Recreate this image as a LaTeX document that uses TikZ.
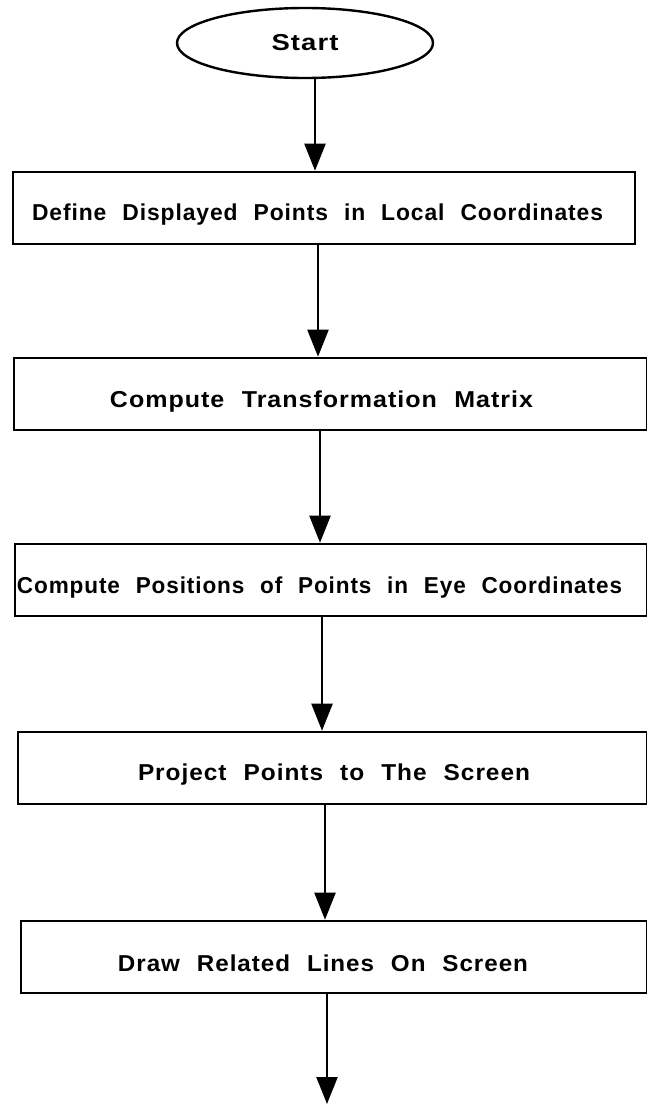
\documentclass[tikz,border=0pt]{standalone}
\usepackage{fontspec}
\usepackage{graphicx}
\setmainfont{Liberation Sans}
\newfontfamily\flowfont[WordSpace=2.2,LetterSpace=4]{Liberation Sans}
\usetikzlibrary{shapes.geometric,arrows.meta}
\newcommand{\fitto}[2]{\resizebox{#1}{\height}{#2}}
\begin{document}
\begin{tikzpicture}[x=1pt,y=-1pt,
  flowbox/.style={draw, rectangle, line width=2.6pt, inner sep=0pt},
  flowtext/.style={inner sep=0pt, font=\flowfont\bfseries\fontsize{23}{26}\selectfont},
  arr/.style={line width=2.3pt, -{Triangle[width=21pt,length=27pt]}}]
\useasboundingbox (0,0) rectangle (646,1105);
% start
\node[draw, ellipse, line width=2.4pt, minimum width=256pt, minimum height=70pt, flowtext] (start) at (305,43) {\fitto{67pt}{Start}};
% boxes
\node[flowbox, minimum width=622pt, minimum height=72pt] (b1) at (324,208) {};
\node[flowbox, minimum width=633pt, minimum height=72pt] (b2) at (330.5,394) {};
\node[flowbox, minimum width=632pt, minimum height=72pt] (b3) at (331,580) {};
\node[flowbox, minimum width=629pt, minimum height=72pt] (b4) at (332.5,768) {};
\node[flowbox, minimum width=626pt, minimum height=72pt] (b5) at (334,957) {};
% texts
\node[flowtext] (t1) at (317.5,215) {\fitto{571pt}{Define Displayed Points in Local Coordinates}};
\node[flowtext] (t2) at (321.5,402) {\fitto{423pt}{Compute Transformation Matrix}};
\node[flowtext] (t3) at (319.5,588) {\fitto{605pt}{Compute Positions of Points in Eye Coordinates}};
\node[flowtext] (t4) at (334,775) {\fitto{392pt}{Project Points to The Screen}};
\node[flowtext] (t5) at (323,963) {\fitto{410pt}{Draw Related Lines On Screen}};
% arrow columns
\coordinate (c0) at (315,0);
\coordinate (c1) at (318,0);
\coordinate (c2) at (320,0);
\coordinate (c3) at (322,0);
\coordinate (c4) at (325,0);
\coordinate (c5) at (327,0);
\coordinate (endpt) at (327,1104);
\draw[arr] (c0 |- start.south) -- (c0 |- b1.north);
\draw[arr] (c1 |- b1.south) -- (c1 |- b2.north);
\draw[arr] (c2 |- b2.south) -- (c2 |- b3.north);
\draw[arr] (c3 |- b3.south) -- (c3 |- b4.north);
\draw[arr] (c4 |- b4.south) -- (c4 |- b5.north);
\draw[arr] (c5 |- b5.south) -- (endpt);
\end{tikzpicture}
\end{document}
